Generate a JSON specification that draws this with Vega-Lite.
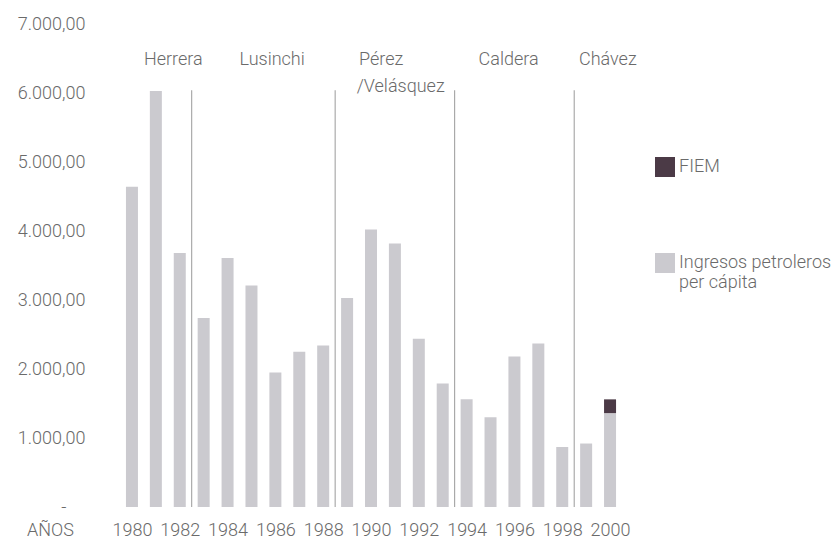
{
  "$schema": "https://vega.github.io/schema/vega-lite/v6.json",
  "width": 512,
  "height": 483,
  "autosize": "none",
  "padding": {"left": 115, "top": 24, "right": 210, "bottom": 39},
  "background": "white",
  "config": {
    "view": {"stroke": null},
    "font": "Roboto",
    "text": {"font": "Roboto"}
  },
  "layer": [
    {
      "data": {
        "values": [
          {"year": 1980, "series": "Ingresos petroleros per cápita", "value": 4640},
          {"year": 1981, "series": "Ingresos petroleros per cápita", "value": 6030},
          {"year": 1982, "series": "Ingresos petroleros per cápita", "value": 3680},
          {"year": 1983, "series": "Ingresos petroleros per cápita", "value": 2740},
          {"year": 1984, "series": "Ingresos petroleros per cápita", "value": 3610},
          {"year": 1985, "series": "Ingresos petroleros per cápita", "value": 3210},
          {"year": 1986, "series": "Ingresos petroleros per cápita", "value": 1950},
          {"year": 1987, "series": "Ingresos petroleros per cápita", "value": 2250},
          {"year": 1988, "series": "Ingresos petroleros per cápita", "value": 2340},
          {"year": 1989, "series": "Ingresos petroleros per cápita", "value": 3030},
          {"year": 1990, "series": "Ingresos petroleros per cápita", "value": 4020},
          {"year": 1991, "series": "Ingresos petroleros per cápita", "value": 3820},
          {"year": 1992, "series": "Ingresos petroleros per cápita", "value": 2440},
          {"year": 1993, "series": "Ingresos petroleros per cápita", "value": 1790},
          {"year": 1994, "series": "Ingresos petroleros per cápita", "value": 1560},
          {"year": 1995, "series": "Ingresos petroleros per cápita", "value": 1300},
          {"year": 1996, "series": "Ingresos petroleros per cápita", "value": 2180},
          {"year": 1997, "series": "Ingresos petroleros per cápita", "value": 2370},
          {"year": 1998, "series": "Ingresos petroleros per cápita", "value": 870},
          {"year": 1999, "series": "Ingresos petroleros per cápita", "value": 920},
          {"year": 2000, "series": "Ingresos petroleros per cápita", "value": 1360},
          {"year": 2000, "series": "FIEM", "value": 200}
        ]
      },
      "mark": {"type": "bar", "size": 12},
      "encoding": {
        "x": {
          "field": "year",
          "type": "quantitative",
          "scale": {"domain": [1979.5, 2000.5], "nice": false, "zero": false},
          "axis": {
            "values": [1980, 1982, 1984, 1986, 1988, 1990, 1992, 1994, 1996, 1998, 2000],
            "format": "d",
            "grid": false,
            "domain": false,
            "ticks": false,
            "labelFont": "Roboto",
            "labelFontWeight": 300,
            "labelFontSize": 18,
            "labelColor": "#6a6a6a",
            "labelPadding": 14,
            "labelFlush": false,
            "title": "AÑOS",
            "titleFont": "Roboto",
            "titleFontSize": 18,
            "titleFontWeight": 300,
            "titleColor": "#6a6a6a",
            "titleX": -65,
            "titleY": 23,
            "titleAlign": "center",
            "titleBaseline": "middle",
            "titleAnchor": null
          }
        },
        "y": {
          "field": "value",
          "type": "quantitative",
          "stack": "zero",
          "scale": {"domain": [0, 7000], "nice": false},
          "axis": {
            "values": [0, 1000, 2000, 3000, 4000, 5000, 6000, 7000],
            "labelExpr": "datum.value == 0 ? '-' : format(datum.value / 1000, 'd') + '.000,00'",
            "grid": false,
            "domain": false,
            "ticks": false,
            "labelFont": "Roboto",
            "labelFontWeight": 300,
            "labelFontSize": 18,
            "labelColor": "#6a6a6a",
            "labelPadding": {"condition": {"test": "datum.value == 0", "value": 49}, "value": 30},
            "title": null
          }
        },
        "color": {
          "field": "series",
          "type": "nominal",
          "scale": {
            "domain": ["FIEM", "Ingresos petroleros per cápita"],
            "range": ["#4b3a46", "#cbcacf"]
          },
          "legend": {
            "orient": "none",
            "legendX": 540,
            "legendY": 133,
            "title": null,
            "symbolType": "square",
            "symbolSize": 400,
            "symbolStrokeWidth": 0,
            "labelFont": "Roboto",
            "labelFontWeight": 300,
            "labelFontSize": 18,
            "labelColor": "#6a6a6a",
            "labelOffset": 4,
            "labelLimit": 300,
            "rowPadding": 76,
            "labelExpr": "datum.label == 'FIEM' ? 'FIEM' : ['Ingresos petroleros', 'per cápita']"
          }
        },
        "order": {"field": "series", "sort": "descending"}
      }
    },
    {
      "data": {
        "values": [
          {"year": 1982.5, "value": 6040},
          {"year": 1988.5, "value": 6040},
          {"year": 1993.5, "value": 6040},
          {"year": 1998.5, "value": 6040}
        ]
      },
      "mark": {"type": "rule", "color": "#9a9a9a", "strokeWidth": 1},
      "encoding": {
        "x": {"field": "year", "type": "quantitative"},
        "y": {"field": "value", "type": "quantitative"},
        "y2": {"datum": 0}
      }
    },
    {
      "data": {
        "values": [
          {"year": 1980.5, "value": 6480, "label": "Herrera"},
          {"year": 1984.5, "value": 6480, "label": "Lusinchi"},
          {"year": 1989.5, "value": 6480, "label": "Pérez"},
          {"year": 1989.4, "value": 6080, "label": "/Velásquez"},
          {"year": 1994.5, "value": 6480, "label": "Caldera"},
          {"year": 1998.7, "value": 6480, "label": "Chávez"}
        ]
      },
      "mark": {
        "type": "text",
        "align": "left",
        "baseline": "middle",
        "fontSize": 18,
        "fontWeight": 300,
        "color": "#6a6a6a",
        "font": "Roboto"
      },
      "encoding": {
        "x": {"field": "year", "type": "quantitative"},
        "y": {"field": "value", "type": "quantitative"},
        "text": {"field": "label", "type": "nominal"}
      }
    }
  ]
}
